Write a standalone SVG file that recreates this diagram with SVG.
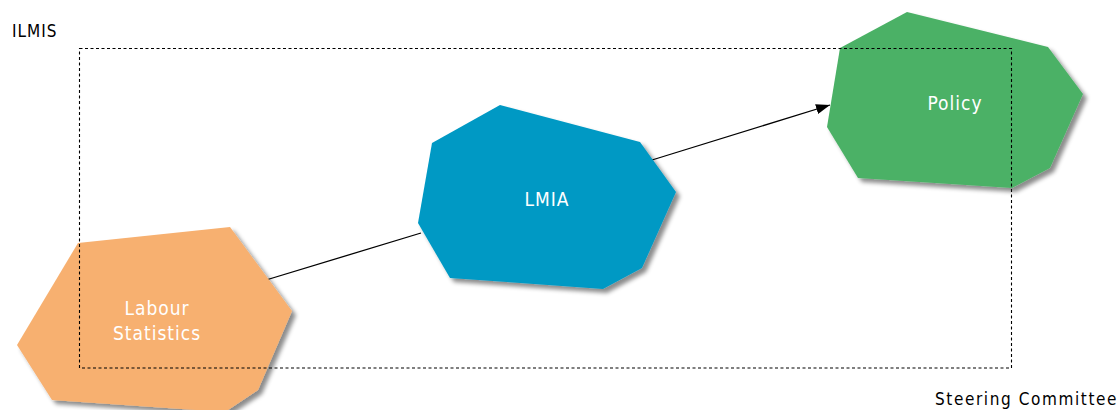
<svg xmlns="http://www.w3.org/2000/svg" width="1118" height="410" viewBox="0 0 1118 410">
<defs>
<filter id="sh" x="-10%" y="-10%" width="130%" height="130%">
<feDropShadow dx="4" dy="4" stdDeviation="2.2" flood-color="#000" flood-opacity="0.45"/>
</filter>
<marker id="arr" viewBox="0 0 14 10" refX="14" refY="5" markerWidth="14" markerHeight="10" markerUnits="userSpaceOnUse" orient="auto">
<path d="M0,0 L14,5 L0,10 Z" fill="#000"/>
</marker>
</defs>
<style>
.lbl{font-family:"DejaVu Sans Condensed","DejaVu Sans",sans-serif;font-stretch:condensed;font-size:19px;letter-spacing:1px;fill:#fff;text-anchor:middle}
.cap{font-family:"DejaVu Sans Condensed","DejaVu Sans",sans-serif;font-stretch:condensed;fill:#000}
.edge{stroke:#000;stroke-width:1.3;fill:none}
</style>
<g id="connectors">
<line class="edge" x1="266" y1="280" x2="421" y2="233"/>
<line class="edge" x1="652" y1="160" x2="830" y2="105" marker-end="url(#arr)"/>
</g>
<g id="labour">
<polygon points="78,243 230,227 292,311 258,390 225,412 52,400 17,345" fill="#F7B070" filter="url(#sh)"/>
<text class="lbl" x="157" y="315">Labour</text>
<text class="lbl" x="157" y="340">Statistics</text>
</g>
<g id="lmia">
<polygon points="500,105 640,142 676,192 642,268 603,289 450,278 418,223 432,143" fill="#0099C4" filter="url(#sh)"/>
<text class="lbl" x="547" y="206">LMIA</text>
</g>
<g id="policy">
<polygon points="907,12 1048,47 1083,94 1050,168 1012,188 858,178 827,127 840,48" fill="#4BB166" filter="url(#sh)"/>
<text class="lbl" x="955" y="110">Policy</text>
</g>
<g id="ilmis">
<rect x="79.5" y="48.5" width="932" height="319.5" fill="none" stroke="#000" stroke-width="1.1" stroke-dasharray="3,2.5"/>
<text class="cap" x="12" y="37" font-size="17" letter-spacing="1">ILMIS</text>
</g>
<g id="steering">
<text class="cap" x="935" y="405" font-size="17" letter-spacing="1.6">Steering Committee</text>
</g>
</svg>
